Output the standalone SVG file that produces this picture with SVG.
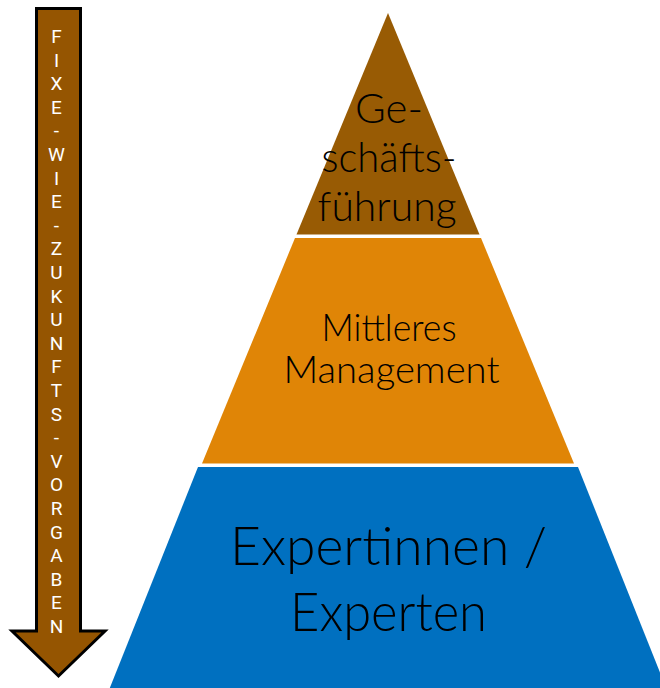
<svg xmlns="http://www.w3.org/2000/svg" width="660" height="688" viewBox="0 0 660 688">
<style>
.lbl{font-family:"Lato","Noto Sans",sans-serif;font-weight:300;fill:#000;text-anchor:middle}
.arr{font-family:"Roboto","Liberation Sans",sans-serif;font-size:19px;fill:#fff;text-anchor:middle}
</style>
<rect width="660" height="688" fill="#fff"/>
<g id="arrow">
<path d="M36.5,8.5 H80.5 V631 H105 L58.5,676 L12,631 H36.5 Z" fill="#955501" stroke="#000" stroke-width="3" stroke-linejoin="miter"/>
<text class="arr"><tspan x="56.5" y="43">F</tspan><tspan x="56.5" dy="23.6">I</tspan><tspan x="56.5" dy="23.6">X</tspan><tspan x="56.5" dy="23.6">E</tspan><tspan x="56.5" dy="23.6">-</tspan><tspan x="56.5" dy="23.6">W</tspan><tspan x="56.5" dy="23.6">I</tspan><tspan x="56.5" dy="23.6">E</tspan><tspan x="56.5" dy="23.6">-</tspan><tspan x="56.5" dy="23.6">Z</tspan><tspan x="56.5" dy="23.6">U</tspan><tspan x="56.5" dy="23.6">K</tspan><tspan x="56.5" dy="23.6">U</tspan><tspan x="56.5" dy="23.6">N</tspan><tspan x="56.5" dy="23.6">F</tspan><tspan x="56.5" dy="23.6">T</tspan><tspan x="56.5" dy="23.6">S</tspan><tspan x="56.5" dy="23.6">-</tspan><tspan x="56.5" dy="23.6">V</tspan><tspan x="56.5" dy="23.6">O</tspan><tspan x="56.5" dy="23.6">R</tspan><tspan x="56.5" dy="23.6">G</tspan><tspan x="56.5" dy="23.6">A</tspan><tspan x="56.5" dy="23.6">B</tspan><tspan x="56.5" dy="23.6">E</tspan><tspan x="56.5" dy="23.6">N</tspan></text>
</g>
<g id="connectors"></g>
<g id="top">
<polygon points="388,13 479.5,234.5 296.5,234.5" fill="#985B04"/>
<text class="lbl" font-size="42"><tspan x="389" y="123" textLength="68" lengthAdjust="spacingAndGlyphs">Ge-</tspan><tspan x="389" y="172" textLength="135" lengthAdjust="spacingAndGlyphs">schäfts-</tspan><tspan x="387" y="221" textLength="139" lengthAdjust="spacingAndGlyphs">führung</tspan></text>
</g>
<g id="middle">
<polygon points="295,238 481,238 574,463.5 202,463.5" fill="#E08506"/>
<text class="lbl" font-size="38"><tspan x="389" y="341" textLength="135" lengthAdjust="spacingAndGlyphs">Mittleres</tspan><tspan x="391.5" y="383" textLength="216" lengthAdjust="spacingAndGlyphs">Management</tspan></text>
</g>
<g id="bottom">
<polygon points="198,467 578,467 667,690 109,690" fill="#0070C0"/>
<text class="lbl" font-size="53"><tspan x="388.5" y="565" textLength="317" lengthAdjust="spacingAndGlyphs">Expertinnen /</tspan><tspan x="388.5" y="631" textLength="197" lengthAdjust="spacingAndGlyphs">Experten</tspan></text>
</g>
</svg>
